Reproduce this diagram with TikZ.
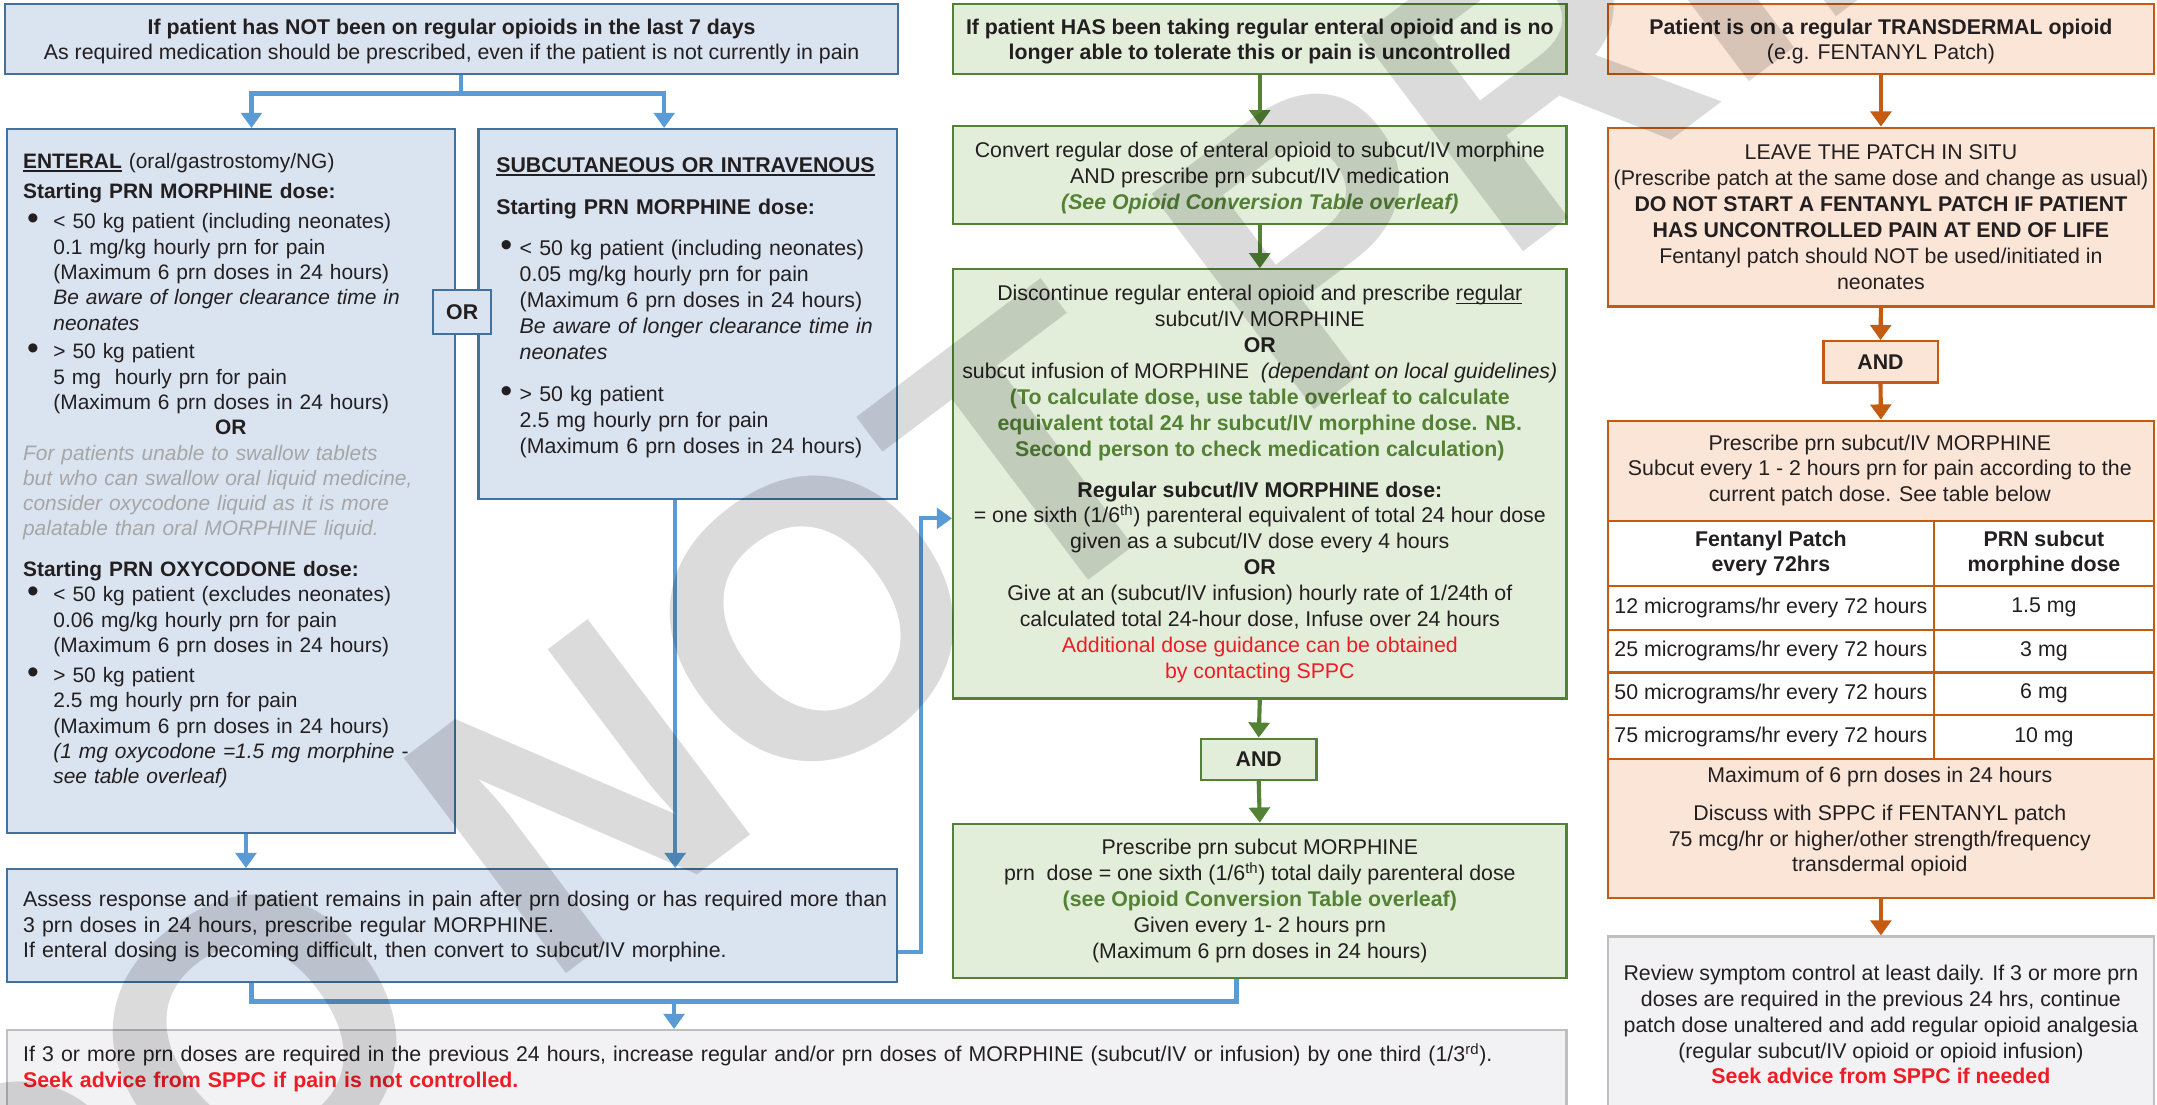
\documentclass[tikz,border=0pt]{standalone}
\usepackage{fontspec}
\setmainfont{Liberation Sans}
\usetikzlibrary{arrows.meta}
\definecolor{bfill}{HTML}{DAE3F0}
\definecolor{bdraw}{HTML}{41719C}
\definecolor{barr}{HTML}{5B9BD5}
\definecolor{gfill}{HTML}{E2EEDA}
\definecolor{gdraw}{HTML}{548235}
\definecolor{ofill}{HTML}{FBE5D6}
\definecolor{odraw}{HTML}{C55A11}
\definecolor{kfill}{HTML}{F2F2F4}
\definecolor{kdraw}{HTML}{BFBFBF}
\definecolor{redt}{HTML}{EE1C25}
\definecolor{greyt}{HTML}{A6A6A6}
\definecolor{txt}{HTML}{231F20}
\definecolor{wmc}{HTML}{B8B8B8}
\newcommand\bul{\hspace*{3pt}\makebox[19pt][l]{\raisebox{-0.5pt}{\scalebox{1.6}{•}}}}
\newcommand\ind{\hspace*{22pt}}
\newcommand\sbul{\hspace*{3pt}\makebox[14pt][l]{\raisebox{-0.5pt}{\scalebox{1.6}{•}}}}
\newcommand\sind{\hspace*{17pt}}
\newcommand\uln[1]{\setbox0\hbox{#1}\rlap{\rule[-2.4pt]{\wd0}{1.1pt}}\box0\relax}
\tikzset{
 base/.style={anchor=north west, inner sep=0pt, line width=1.6pt, text=txt, font=\fontsize{15.5}{18.8}\selectfont},
 bbox/.style={base, draw=bdraw, fill=bfill},
 gbox/.style={base, draw=gdraw, fill=gfill, align=center},
 obox/.style={base, draw=odraw, fill=ofill, align=center},
 kbox/.style={base, draw=kdraw, fill=kfill},
 cell/.style={base, draw=odraw, fill=white, align=center},
 plain/.style={inner sep=0pt, text=txt, font=\fontsize{15.5}{18.8}\selectfont, align=center},
 bline/.style={draw=barr, line width=3pt},
 barrow/.style={bline, -{Triangle[width=15pt,length=11pt]}},
 garrow/.style={draw=gdraw, line width=3pt, -{Triangle[width=15pt,length=11pt]}},
 oarrow/.style={draw=odraw, line width=3pt, -{Triangle[width=15pt,length=11pt]}},
}
\begin{document}
\begin{tikzpicture}[x=1pt,y=-1pt]
\useasboundingbox (0,0) rectangle (1568,803);
\fill[white] (0,0) rectangle (1568,803);

% ---------------- left column (blue)
\node[bbox, minimum width=649pt, minimum height=51pt, align=center] (hb) at (3,2)
 {\rule{0pt}{15pt}\textbf{If patient has NOT been on regular opioids in the last 7 days}\\
  As required medication should be prescribed, even if the patient is not currently in pain};

\node[bbox, minimum width=326pt, minimum height=512pt, text width=302pt, align=left,
      font=\fontsize{15.2}{18.4}\selectfont] (en) at (4,93)
 {\uln{\textbf{ENTERAL}} (oral/gastrostomy/NG)\\[3.5pt]
  \textbf{Starting PRN MORPHINE dose:}\\[3.5pt]
  \bul< 50 kg patient (including neonates)\\
  \ind 0.1 mg/kg hourly prn for pain\\
  \ind (Maximum 6 prn doses in 24 hours)\\
  \ind\textit{Be aware of longer clearance time in}\\
  \ind\textit{neonates}\\[2.5pt]
  \bul> 50 kg patient\\
  \ind 5 mg\ \ hourly prn for pain\\
  \ind (Maximum 6 prn doses in 24 hours)\\
  \makebox[302pt][c]{\textbf{OR}}\\
  {\color{greyt}\itshape For patients unable to swallow tablets}\\
  {\color{greyt}\itshape but who can swallow oral liquid medicine,}\\
  {\color{greyt}\itshape consider oxycodone liquid as it is more}\\
  {\color{greyt}\itshape palatable than oral MORPHINE liquid.}\\[11pt]
  \textbf{Starting PRN OXYCODONE dose:}\\
  \bul< 50 kg patient (excludes neonates)\\
  \ind 0.06 mg/kg hourly prn for pain\\
  \ind (Maximum 6 prn doses in 24 hours)\\[3.5pt]
  \bul> 50 kg patient\\
  \ind 2.5 mg hourly prn for pain\\
  \ind (Maximum 6 prn doses in 24 hours)\\
  \ind\textit{(1 mg oxycodone =1.5 mg morphine -}\\
  \ind\textit{see table overleaf)}\\\mbox{}};

\node[bbox, minimum width=304pt, minimum height=269pt, text width=278pt, align=left] (sc) at (347,93)
 {\uln{\textbf{SUBCUTANEOUS OR INTRAVENOUS}}\\[12pt]
  \textbf{Starting PRN MORPHINE dose:}\\[11pt]
  \sbul< 50 kg patient (including neonates)\\
  \sind 0.05 mg/kg hourly prn for pain\\
  \sind (Maximum 6 prn doses in 24 hours)\\
  \sind\textit{Be aware of longer clearance time in}\\
  \sind\textit{neonates}\\[12pt]
  \sbul> 50 kg patient\\
  \sind 2.5 mg hourly prn for pain\\
  \sind (Maximum 6 prn doses in 24 hours)\\[-6pt]\mbox{}};

\node[bbox, anchor=center, minimum width=42pt, minimum height=32pt, font=\fontsize{15.5}{18.8}\selectfont\bfseries] (or) at (336,227) {OR};

\node[bbox, minimum width=647pt, minimum height=82pt, text width=623pt, align=left] (as) at (4,631)
 {\mbox{Assess response and if patient remains in pain after prn dosing or has required more than}\\
  3 prn doses in 24 hours, prescribe regular MORPHINE.\\
  If enteral dosing is becoming difficult, then convert to subcut/IV morphine.\\[-17pt]\mbox{}};

\node[kbox, minimum width=1134pt, minimum height=62pt, text width=1110pt, align=left] (bg) at (4,748)
 {If 3 or more prn doses are required in the previous 24 hours, increase regular and/or prn doses of MORPHINE (subcut/IV or infusion) by one third (1/3\textsuperscript{rd}).\\
  {\color{redt}\bfseries Seek advice from SPPC if pain is not controlled.}\\[-8pt]\mbox{}};

% ---------------- middle column (green)
\node[gbox, minimum width=446pt, minimum height=51pt] (gh) at (692,2)
 {\rule{0pt}{15pt}\textbf{If patient HAS been taking regular enteral opioid and is no}\\
  \textbf{longer able to tolerate this or pain is uncontrolled}};
\node[gbox, minimum width=446pt, minimum height=71pt] (g2) at (692,91)
 {\rule{0pt}{15pt}Convert regular dose of enteral opioid to subcut/IV morphine\\
  AND prescribe prn subcut/IV medication\\
  \textcolor{gdraw}{\bfseries\itshape (See Opioid Conversion Table overleaf)}};
\node[gbox, minimum width=446pt, minimum height=312pt] (g3) at (692,195)
 {Discontinue regular enteral opioid and prescribe \uln{regular}\\
  subcut/IV MORPHINE\\
  \textbf{OR}\\
  subcut infusion of MORPHINE\ \ \textit{(dependant on local guidelines)}\\
  \textcolor{gdraw}{\bfseries (To calculate dose, use table overleaf to calculate}\\
  \textcolor{gdraw}{\bfseries equivalent total 24 hr subcut/IV morphine dose. NB.}\\
  \textcolor{gdraw}{\bfseries Second person to check medication calculation)}\\[11pt]
  \textbf{Regular subcut/IV MORPHINE dose:}\\
  = one sixth (1/6\textsuperscript{th}) parenteral equivalent of total 24 hour dose\\
  given as a subcut/IV dose every 4 hours\\
  \textbf{OR}\\
  Give at an (subcut/IV infusion) hourly rate of 1/24th of\\
  calculated total 24-hour dose, Infuse over 24 hours\\
  \textcolor{redt}{Additional dose guidance can be obtained}\\
  \textcolor{redt}{by contacting SPPC}};
\node[gbox, anchor=center, minimum width=84pt, minimum height=30pt] (gand) at (915,552) {\textbf{AND}};
\node[gbox, minimum width=446pt, minimum height=112pt] (g4) at (692,598)
 {Prescribe prn subcut MORPHINE\\
  prn\ \ dose = one sixth (1/6\textsuperscript{th}) total daily parenteral dose\\
  \textcolor{gdraw}{\bfseries (see Opioid Conversion Table overleaf)}\\
  Given every 1- 2 hours prn\\
  (Maximum 6 prn doses in 24 hours)};

% ---------------- right column (orange)
\node[obox, minimum width=397pt, minimum height=51pt] (oh) at (1168,2)
 {\rule{0pt}{15pt}\textbf{Patient is on a regular TRANSDERMAL opioid}\\ (e.g. FENTANYL Patch)};
\node[obox, minimum width=397pt, minimum height=130pt] (o2) at (1168,92)
 {LEAVE THE PATCH IN SITU\\
  (Prescribe patch at the same dose and change as usual)\\
  \textbf{DO NOT START A FENTANYL PATCH IF PATIENT}\\
  \textbf{HAS UNCONTROLLED PAIN AT END OF LIFE}\\
  Fentanyl patch should NOT be used/initiated in\\
  neonates};
\node[obox, anchor=center, minimum width=83pt, minimum height=30pt] (oand) at (1367,263) {\textbf{AND}};
\node[obox, minimum width=397pt, minimum height=347pt] (o3) at (1168,305) {};
\node[plain] (o3t) at (1366.5,342)
 {Prescribe prn subcut/IV MORPHINE\\
  Subcut every 1 - 2 hours prn for pain according to the\\
  current patch dose. See table below};
\node[cell, minimum width=237pt, minimum height=47pt] (c00) at (1168,378) {\textbf{Fentanyl Patch}\\ \textbf{every 72hrs}};
\node[cell, minimum width=160pt, minimum height=47pt] (c01) at (1405,378) {\textbf{PRN subcut}\\ \textbf{morphine dose}};
\node[cell, minimum width=237pt, minimum height=32pt] (c10) at (1168,425) {12 micrograms/hr every 72 hours};
\node[cell, minimum width=160pt, minimum height=32pt] (c11) at (1405,425) {1.5 mg};
\node[cell, minimum width=237pt, minimum height=31pt] (c20) at (1168,457) {25 micrograms/hr every 72 hours};
\node[cell, minimum width=160pt, minimum height=31pt] (c21) at (1405,457) {3 mg};
\node[cell, minimum width=237pt, minimum height=31pt] (c30) at (1168,488) {50 micrograms/hr every 72 hours};
\node[cell, minimum width=160pt, minimum height=31pt] (c31) at (1405,488) {6 mg};
\node[cell, minimum width=237pt, minimum height=32pt] (c40) at (1168,519) {75 micrograms/hr every 72 hours};
\node[cell, minimum width=160pt, minimum height=32pt] (c41) at (1405,519) {10 mg};
\node[plain] (o3b1) at (1366.5,565) {Maximum of 6 prn doses in 24 hours};
\node[plain] (o3b2) at (1366.5,611)
 {Discuss with SPPC if FENTANYL patch\\
  75 mcg/hr or higher/other strength/frequency\\
  transdermal opioid};
\node[kbox, align=center, minimum width=397pt, minimum height=128pt] (rv) at (1168,680)
 {Review symptom control at least daily. If 3 or more prn\\
  doses are required in the previous 24 hrs, continue\\
  patch dose unaltered and add regular opioid analgesia\\
  (regular subcut/IV opioid or opioid infusion)\\
  \textcolor{redt}{\bfseries Seek advice from SPPC if needed}};

% ---------------- connectors
\coordinate (j1) at (335,68);
\draw[bline] (hb.south -| j1) -- (j1);
\draw[barrow] (j1) -| ([xshift=15pt]en.north);
\draw[barrow] (j1) -| ([xshift=-17pt]sc.north);
\coordinate (e1) at ([xshift=11pt]en.south);
\draw[barrow] (e1) -- (e1 |- as.north);
\coordinate (s1) at ([xshift=-9pt]sc.south);
\draw[barrow] (s1) -- (s1 |- as.north);
\coordinate (a1) at ([yshift=-19pt]as.east);
\coordinate (g3in) at ([yshift=-25pt]g3.west);
\draw[barrow] (a1) -- ++(17,0) |- (g3in);
\coordinate (j2) at (490,728);
\coordinate (a2) at ([xshift=-145.5pt]as.south);
\coordinate (g4b) at ([xshift=-17pt]g4.south);
\draw[bline] (a2) |- (j2);
\draw[bline] (g4b) |- (j2);
\draw[barrow] (j2) -- (j2 |- bg.north);

\draw[garrow] (gh.south) -- (g2.north);
\draw[garrow] (g2.south) -- (g3.north);
\draw[garrow] (g3.south) -- (gand.north);
\draw[garrow] (gand.south) -- (g4.north);

\draw[oarrow] (oh.south) -- (o2.north);
\draw[oarrow] (o2.south) -- (oand.north);
\draw[oarrow] (oand.south) -- (o3.north);
\draw[oarrow] (o3.south) -- (rv.north);

% ---------------- watermark
\begin{scope}[blend mode=multiply]
\clip (0,0) rectangle (1568,803);
\node[text=wmc, text opacity=0.5, inner sep=0pt, rotate=37, font=\fontsize{285}{285}\selectfont\bfseries] (wm) at (640,410) {S/DO NOT PRINT};
\end{scope}
\end{tikzpicture}
\end{document}
